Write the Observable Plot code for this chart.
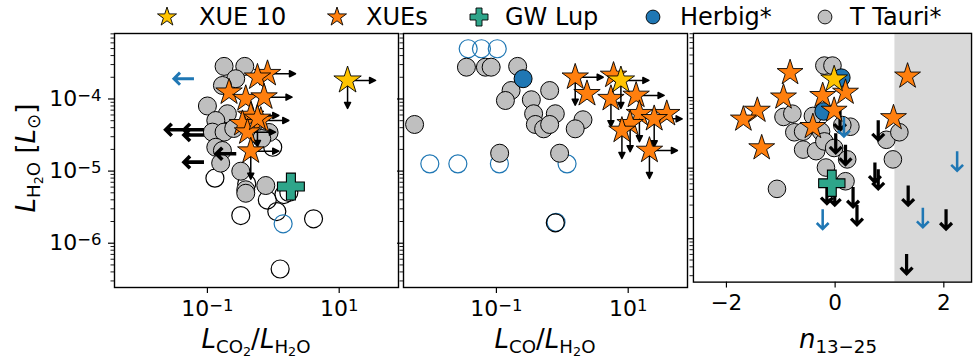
<!DOCTYPE html>
<html><head><meta charset="utf-8">
<script src="https://cdn.jsdelivr.net/npm/d3@7"></script>
<script src="https://cdn.jsdelivr.net/npm/@observablehq/plot@0.6"></script>
<style>
html,body{margin:0;padding:0;background:#fff;overflow:hidden;}
#root{position:relative;width:974px;height:362px;font-family:"DejaVu Sans",sans-serif;overflow:hidden;background:#fff;}
.panel{position:absolute;top:28px;}
.lab{position:absolute;font-size:26px;line-height:1;white-space:nowrap;color:#000;}
.lab sub{font-size:70%;vertical-align:-0.25em;line-height:0;}
.leg{position:absolute;font-size:24px;line-height:1;white-space:nowrap;top:5px;}
.legm{position:absolute;top:4px;}
</style></head><body><div id="root"></div>
<script>
// ---------- data ----------
const yTicks = [1e-4, 1e-5, 1e-6];
const ratioTicks = [0.1, 10];
const nTicks = [-2, 0, 2];
const nShadeMin = 1.1;

const legendLabels = ["XUE 10", "XUEs", "GW Lup", "Herbig*", "T Tauri*"];

// Panel 1: L_CO2/L_H2O vs L_H2O
const co2TTauri = [[0.179,2.83e-4],[0.369,2.83e-4],[0.269,1.91e-4],[0.169,1.54e-4],[0.100,8.0e-5],[0.201,6.24e-5],[0.134,5.03e-5],[0.119,3.47e-5],[0.179,3.47e-5],[0.134,2.14e-5],[0.169,1.93e-5],[0.863,3.43e-5],[0.159,1.29e-5],[0.321,9.97e-6],[0.382,5.51e-6],[0.382,4.93e-6],[0.769,6.31e-6],[0.251,3.90e-5],[0.668,2.83e-5]];
const co2TTauriOpen = [[0.130,7.98e-6],[0.395,6.67e-6],[0.811,3.97e-6],[1.13,2.75e-6],[1.45,4.73e-6],[0.321,2.42e-6],[4.08,2.18e-6],[1.27,4.39e-7],[0.98,2.14e-5],[1.72,5.05e-6]];
const co2HerbigOpen = [[1.41,1.86e-6]];
const co2TTauriLimit = [[0.0468,3.74e-5],[0.0887,3.74e-5],[0.0887,3.17e-5],[0.0887,1.33e-5],[0.274,1.74e-5]];
const co2HerbigLimit = [[0.0625,1.91e-4]];
// [ratio, L, right-arrow, down-arrow]
const co2XUEs = [[0.817,2.24e-4,1,0],[0.575,2.00e-4,0,0],[0.213,1.24e-4,0,0],[0.382,1.01e-4,0,0],[0.724,1.06e-4,1,0],[0.455,5.90e-5,1,0],[0.646,5.03e-5,1,0],[0.340,4.53e-5,0,0],[0.406,3.47e-5,1,0],[0.575,5.37e-5,0,1],[0.455,1.89e-5,1,1]];
const co2XUE10 = [[13.4,1.81e-4,1,1]];
const co2GWLup = [[1.85,6.11e-6]];

// Panel 2: L_CO/L_H2O vs L_H2O
const coTTauri = [[0.00573,4.43e-5],[0.0351,2.76e-4],[0.0681,2.76e-4],[0.0832,2.76e-4],[0.210,2.83e-4],[0.167,1.31e-4],[0.137,9.53e-5],[0.643,1.31e-4],[0.339,9.75e-5],[0.367,6.24e-5],[0.783,6.24e-5],[0.390,4.43e-5],[0.521,3.86e-5],[0.643,4.43e-5],[2.06,5.15e-5],[1.57,3.86e-5],[0.112,1.77e-5],[0.910,1.77e-5]];
const coHerbig = [[0.254,1.91e-4]];
const coHerbigOpen = [[0.0373,4.97e-4],[0.0593,4.97e-4],[0.103,4.97e-4],[0.00976,1.26e-5],[0.0260,1.26e-5],[0.111,1.26e-5],[1.18,1.26e-5],[0.803,1.95e-6]];
const coTTauriOpen = [[0.783,1.92e-6]];
const coXUEs = [[1.57,2.00e-4,1,1],[2.37,1.18e-4,0,0],[5.99,2.12e-4,0,0],[5.47,1.01e-4,0,1],[13.2,1.12e-4,1,0],[14.8,6.24e-5,0,1],[38.5,6.24e-5,0,0],[24.8,5.31e-5,1,1],[10.7,4.53e-5,0,1],[8.03,3.66e-5,0,1],[21.0,1.93e-5,1,1]];
const coXUE10 = [[7.75,1.81e-4,1,1]];

// Panel 3: n_13-25 vs L_H2O
const nTTauri = [[-0.198,2.83e-4],[-0.049,2.83e-4],[-0.950,5.31e-5],[-0.787,5.90e-5],[-0.409,5.48e-5],[-0.751,3.22e-5],[-0.589,3.29e-5],[-0.259,3.29e-5],[0.281,3.86e-5],[0.132,4.07e-5],[-0.589,1.83e-5],[-0.350,1.74e-5],[-0.198,2.39e-5],[-0.018,1.93e-5],[0.222,1.33e-5],[-0.169,1.02e-5],[0.191,6.52e-6],[-1.070,5.09e-6],[0.942,2.52e-5],[1.182,3.22e-5],[1.063,1.33e-5]];
const nHerbig = [[0.114,1.91e-4],[-0.211,6.35e-5]];
const nTTauriLimit = [[0.090,6.56e-5],[0.011,3.12e-5],[0.191,2.14e-5],[0.793,4.77e-5],[0.732,1.20e-5],[0.793,9.66e-6],[-0.151,5.98e-6],[-0.007,5.69e-6],[0.330,5.39e-6],[0.402,3.00e-6],[1.344,5.69e-6],[2.041,2.61e-6],[1.315,6.08e-7]];
const nHerbigLimit = [[-0.229,2.61e-6],[1.614,2.75e-6],[2.245,1.74e-5],[0.162,5.31e-5]];
const nXUEs = [[-0.829,2.24e-4],[1.333,2.00e-4],[-0.950,1.01e-4],[-0.229,1.06e-4],[0.191,1.18e-4],[-1.431,6.56e-5],[-1.688,4.92e-5],[-0.018,6.56e-5],[1.074,5.15e-5],[-0.409,3.86e-5],[-1.351,1.93e-5]];
const nXUE10 = [[-0.018,1.81e-4]];
const nGWLup = [[-0.061,6.11e-6]];

// ---------- styling ----------
const C = {xue10:"#ffc400", xue:"#ff7f0e", gw:"#2ea58a", herbig:"#1f77b4", tt:"#bfbfbf"};
const yDomain = [Math.pow(10,-6.614), Math.pow(10,-3.092)];
const ratioDomain = [Math.pow(10,-2.41), Math.pow(10,1.90)];
const nDomain = [-2.607, 2.51];
const yMinor = [];
for (let k = -7; k <= -4; k++) for (let m = 2; m <= 9; m++) { const v = m*Math.pow(10,k); if (v>yDomain[0] && v<yDomain[1]) yMinor.push(v); }

const X = d => d[0], Y = d => d[1];
const fmtPow = v => "10^" + String(Math.round(Math.log10(v))).replace("-", "\u2212");

// small arrow with a closed (filled) head
const headArrow = {
  draw(context, l, r) {
    const h = 2 * r;
    context.moveTo(0, 0);
    context.lineTo(0, -l + h);
    context.moveTo(-r, -l + h);
    context.lineTo(0, -l);
    context.lineTo(r, -l + h);
    context.closePath();
  }
};

function openDots(data, color){ return Plot.dot(data,{x:X,y:Y,r:9,fill:"none",stroke:color,strokeWidth:1.2}); }
function fillDots(data, color){ return Plot.dot(data,{x:X,y:Y,r:9,fill:color,stroke:"black",strokeWidth:1}); }
function limitArrows(data, color, rot, w){ return Plot.vector(data,{x:X,y:Y,length:20,rotate:rot,anchor:"start",r:5.3,stroke:color,strokeWidth:w,strokeLinejoin:"miter",strokeLinecap:"butt"}); }
function xueArrows(data){ return [
  Plot.vector(data.filter(d=>d[2]),{x:X,y:Y,length:28,rotate:90,anchor:"start",r:3,shape:headArrow,fill:"black",stroke:"black",strokeWidth:1.5}),
  Plot.vector(data.filter(d=>d[3]),{x:X,y:Y,length:28,rotate:180,anchor:"start",r:3,shape:headArrow,fill:"black",stroke:"black",strokeWidth:1.5})
]; }
function stars(data, color, r){ return Plot.dot(data,{x:X,y:Y,symbol:"star",r:r,fill:color,stroke:"black",strokeWidth:0.9}); }
function cross(data){ return Plot.dot(data,{x:X,y:Y,symbol:"cross",r:11.3,fill:C.gw,stroke:"black",strokeWidth:1.1}); }

function axes(xTicks, xFmt, yLabels){ return [
  Plot.axisX({ticks:xTicks, tickSize:6, tickPadding:7, fontSize:22, tickFormat:xFmt, label:null, strokeWidth:1.2}),
  Plot.axisY({ticks:yTicks, tickSize:6, tickPadding:7, fontSize:22, tickFormat: yLabels ? fmtPow : () => "", label:null, strokeWidth:1.2}),
  Plot.axisY({ticks:yMinor, tickSize:3.5, tickFormat:() => "", label:null, strokeWidth:0.9}),
  Plot.frame({stroke:"black", strokeWidth:1.4})
]; }

function makePlot(opts){
  return Plot.plot({
    width: opts.width, height: 334, marginTop: 5, marginBottom: 75,
    marginLeft: opts.ml, marginRight: opts.mr,
    x: opts.x, y: {type:"log", domain: yDomain},
    style: {background:"transparent", overflow:"visible", fontFamily:"DejaVu Sans", color:"black"},
    marks: opts.marks
  });
}

const p1 = makePlot({width:400, ml:114, mr:2, x:{type:"log", domain:ratioDomain},
  marks:[
    openDots(co2TTauriOpen,"black"), openDots(co2HerbigOpen,C.herbig),
    fillDots(co2TTauri,C.tt),
    limitArrows(co2TTauriLimit,"black",270,3.6), limitArrows(co2HerbigLimit,C.herbig,270,3),
    ...xueArrows(co2XUEs), stars(co2XUEs,C.xue,8.3),
    ...xueArrows(co2XUE10), stars(co2XUE10,C.xue10,8.6),
    cross(co2GWLup),
    ...axes(ratioTicks, fmtPow, true)
  ]});
const p2 = makePlot({width:290, ml:3, mr:3, x:{type:"log", domain:ratioDomain},
  marks:[
    openDots(coHerbigOpen,C.herbig), openDots(coTTauriOpen,"black"),
    fillDots(coTTauri,C.tt), fillDots(coHerbig,C.herbig),
    ...xueArrows(coXUEs), stars(coXUEs,C.xue,8.3),
    ...xueArrows(coXUE10), stars(coXUE10,C.xue10,8.6),
    ...axes(ratioTicks, fmtPow, false)
  ]});
const p3 = makePlot({width:290, ml:3, mr:3, x:{type:"linear", domain:nDomain},
  marks:[
    Plot.rect([{a:nShadeMin, b:nDomain[1]}],{x1:"a", x2:"b", fill:"#d9d9d9"}),
    fillDots(nTTauri,C.tt), fillDots(nHerbig,C.herbig),
    limitArrows(nTTauriLimit,"black",180,3.3), limitArrows(nHerbigLimit,C.herbig,180,2.6),
    stars(nXUEs,C.xue,8.3), stars(nXUE10,C.xue10,8.6),
    cross(nGWLup),
    ...axes(nTicks, d => String(d).replace("-", "\u2212"), false)
  ]});

// superscripts for power-of-ten tick labels
function supers(svg){
  svg.querySelectorAll("text").forEach(t => {
    const s = t.textContent;
    if (s.includes("^")) {
      const [b, e] = s.split("^");
      t.textContent = b;
      const ts = document.createElementNS("http://www.w3.org/2000/svg","tspan");
      ts.setAttribute("dy","-5");
      ts.setAttribute("font-size","0.75em");
      ts.textContent = e;
      t.appendChild(ts);
    }
  });
}

const root = document.getElementById("root");
[[p1,0],[p2,400],[p3,690]].forEach(([p,left]) => {
  supers(p);
  const d = document.createElement("div");
  d.className = "panel"; d.style.left = left + "px";
  d.appendChild(p); root.appendChild(d);
});

// axis labels
function addLabel(html, css){ const d = document.createElement("div"); d.className = "lab"; d.innerHTML = html; Object.assign(d.style, css); root.appendChild(d); }
addLabel('<i>L</i><sub>CO<sub>2</sub></sub>/<i>L</i><sub>H<sub>2</sub>O</sub>', {left:"256px", top:"326px", transform:"translateX(-50%)"});
addLabel('<i>L</i><sub>CO</sub>/<i>L</i><sub>H<sub>2</sub>O</sub>', {left:"545px", top:"326px", transform:"translateX(-50%)"});
addLabel('<i>n</i><sub>13\u221225</sub>', {left:"838px", top:"326px", transform:"translateX(-50%)"});
addLabel('<i>L</i><sub>H<sub>2</sub>O</sub> [<i>L</i><sub>\u2299</sub>]', {left:"26px", top:"158px", transform:"translate(-50%,-50%) rotate(-90deg)"});

// legend
const legItems = [
  {sym:d3.symbolStar, size:112, fill:C.xue10, mx:167, tx:199},
  {sym:d3.symbolStar, size:112, fill:C.xue, mx:337, tx:366},
  {sym:d3.symbolCross, size:180, fill:C.gw, mx:479, tx:505},
  {sym:d3.symbolCircle, size:150, fill:C.herbig, mx:653, tx:680},
  {sym:d3.symbolCircle, size:150, fill:C.tt, mx:825, tx:850}
];
legItems.forEach((it,i) => {
  const s = d3.create("svg").attr("width",28).attr("height",28).attr("class","legm")
    .style("left",(it.mx-14)+"px").style("position","absolute").style("top","3px");
  s.append("path").attr("transform","translate(14,14)").attr("d", d3.symbol(it.sym, it.size)())
    .attr("fill", it.fill).attr("stroke","black").attr("stroke-width",0.9);
  root.appendChild(s.node());
  const t = document.createElement("div"); t.className = "leg"; t.style.left = it.tx + "px"; t.textContent = legendLabels[i];
  root.appendChild(t);
});
</script></body></html>
